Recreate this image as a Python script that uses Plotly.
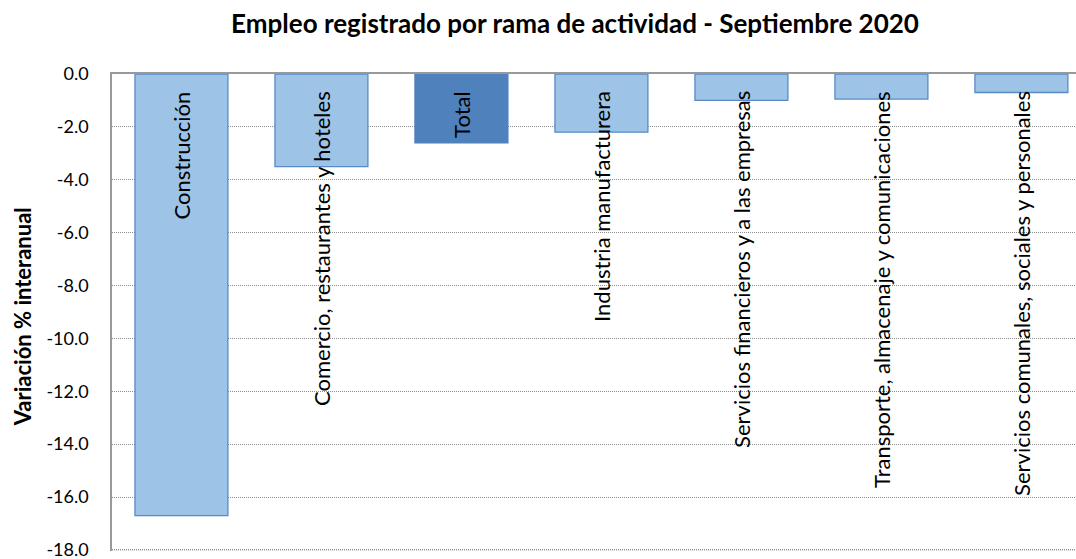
import plotly.graph_objects as go

categories = ["Construcción", "Comercio, restaurantes y hoteles", "Total",
              "Industria manufacturera", "Servicios financieros y a las empresas",
              "Transporte, almacenaje y comunicaciones",
              "Servicios comunales, sociales y personales"]
values = [-16.7, -3.5, -2.6, -2.2, -1.0, -0.95, -0.7]
tick_vals = [0, -2, -4, -6, -8, -10, -12, -14, -16, -18]
tick_text = ["0.0", "-2.0", "-4.0", "-6.0", "-8.0", "-10.0", "-12.0", "-14.0", "-16.0", "-18.0"]

FONT = "Lato, Open Sans, sans-serif"
x_idx = list(range(len(categories)))
colors = ["#4F81BD" if c == "Total" else "#9DC3E6" for c in categories]
line_colors = ["#4F81BD" if c == "Total" else "#5A8AC6" for c in categories]

fig = go.Figure()
fig.add_trace(go.Bar(
    x=x_idx, y=values, width=0.664,
    marker=dict(color=colors, line=dict(color=line_colors, width=1.3)),
    showlegend=False, hoverinfo="skip",
))

for i, c in zip(x_idx, categories):
    fig.add_annotation(x=i, y=0, xref="x", yref="y", text=c, textangle=-90,
                       showarrow=False, yanchor="top", xanchor="center", yshift=-15,
                       font=dict(family=FONT, size=22, color="#000"))

fig.add_annotation(x=0, y=0.49, xref="paper", yref="paper", xshift=-90,
                   text="<b>Variación % interanual</b>", textangle=-90, showarrow=False,
                   xanchor="center", yanchor="middle",
                   font=dict(family=FONT, size=22, color="#000"))

# bottom dotted gridline at the lowest tick
fig.add_shape(type="line", xref="paper", yref="y", x0=0, x1=1,
              y0=min(tick_vals), y1=min(tick_vals),
              line=dict(color="#8c8c8c", width=1, dash="1px,1px"), layer="below")

fig.update_layout(
    width=1076, height=559,
    margin=dict(l=112, r=0, t=74, b=8),
    paper_bgcolor="white", plot_bgcolor="white",
    title=dict(text="<b>Empleo registrado por rama de actividad - Septiembre 2020</b>",
               x=575/1076, xref="container", xanchor="center", y=1 - 24/559, yanchor="middle",
               font=dict(family=FONT, size=26, color="#000")),
    xaxis=dict(range=[-0.496, 6.39], showticklabels=False, ticks="", showgrid=False,
               zeroline=False, showline=True, side="top", linecolor="#999999", linewidth=1.5),
    yaxis=dict(range=[-18.04, 0], tickvals=tick_vals, ticktext=tick_text,
               showgrid=True, gridcolor="#8c8c8c", griddash="1px,1px", gridwidth=1,
               zeroline=False, showline=True, linecolor="#999999", linewidth=1.5,
               ticks="", ticklabelstandoff=18, ticklabeloverflow="allow",
               tickfont=dict(family=FONT, size=18, color="#000")),
)

fig.write_html("out.html", config={"displayModeBar": False},
               post_script="document.body.style.margin='0';document.body.style.overflow='hidden';")
